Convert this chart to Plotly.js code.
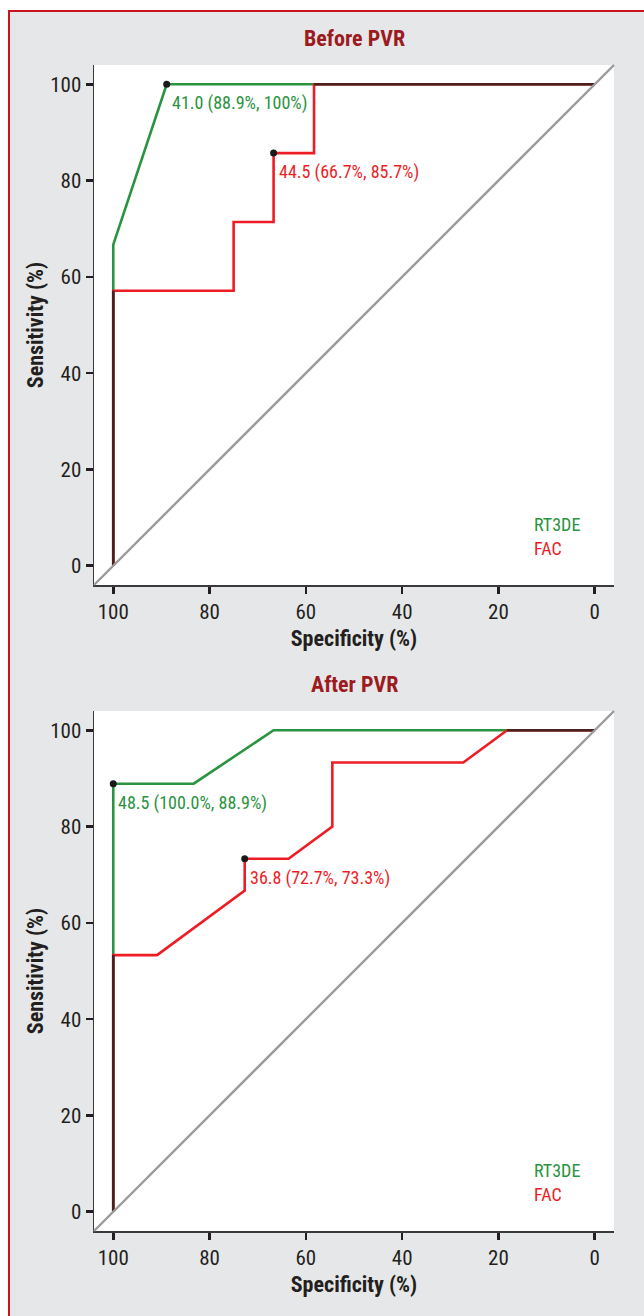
<!DOCTYPE html>
<html>
<head>
<meta charset="utf-8">
<script src="https://cdn.plot.ly/plotly-3.0.1.min.js"></script>
<style>
  html, body { margin: 0; padding: 0; background: #ffffff; }
  #frame {
    position: absolute; left: 8px; top: 10px; width: 640px; height: 1310px;
    background: #e6e7e8; border-left: 2px solid #c8161e; border-top: 2px solid #c8161e;
  }
  #chart { position: absolute; left: 0; top: 0; width: 644px; height: 1316px; }
</style>
</head>
<body>
<div id="frame"></div>
<div id="chart"></div>
<script>
// ---------- data ----------
const panelTitles = ['Before PVR', 'After PVR'];
const seriesNames = ['RT3DE', 'FAC'];

// Before PVR ROC curves (specificity %, sensitivity %)
const beforeRT3DE_spec = [100, 100, 88.9, 0];
const beforeRT3DE_sens = [0, 66.7, 100, 100];
const beforeFAC_spec = [100, 100, 75, 75, 66.7, 66.7, 58.3, 58.3, 0];
const beforeFAC_sens = [0, 57.1, 57.1, 71.4, 71.4, 85.7, 85.7, 100, 100];

// After PVR ROC curves
const afterRT3DE_spec = [100, 100, 83.3, 66.7, 0];
const afterRT3DE_sens = [0, 88.9, 88.9, 100, 100];
const afterFAC_spec = [100, 100, 90.9, 81.8, 72.7, 72.7, 63.6, 54.5, 54.5, 27.3, 18.2, 0];
const afterFAC_sens = [0, 53.3, 53.3, 60, 66.7, 73.3, 73.3, 80, 93.3, 93.3, 100, 100];

// best thresholds (RT3DE, FAC)
const beforeBest_spec = [88.9, 66.7];
const beforeBest_sens = [100, 85.7];
const beforeBest_labels = ['41.0 (88.9%, 100%)', '44.5 (66.7%, 85.7%)'];
const afterBest_spec = [100.0, 72.7];
const afterBest_sens = [88.9, 73.3];
const afterBest_labels = ['48.5 (100.0%, 88.9%)', '36.8 (72.7%, 73.3%)'];

const xTicks = [100, 80, 60, 40, 20, 0];
const yTicks = [0, 20, 40, 60, 80, 100];

// ---------- styles ----------
const GREEN = '#2a9340';
const RED = '#ee1d25';
const BROWN = '#4a2020';
const INK = '#231f20';
const FONT = '"Roboto Condensed", "DejaVu Sans Condensed", sans-serif';

// shared (overlapping) axis-aligned segments of two polylines
function overlap(ax, ay, bx, by) {
  const ox = [], oy = [];
  for (let i = 0; i < ax.length - 1; i++) {
    for (let j = 0; j < bx.length - 1; j++) {
      if (ax[i] === ax[i+1] && bx[j] === bx[j+1] && ax[i] === bx[j]) {
        const lo = Math.max(Math.min(ay[i], ay[i+1]), Math.min(by[j], by[j+1]));
        const hi = Math.min(Math.max(ay[i], ay[i+1]), Math.max(by[j], by[j+1]));
        if (hi > lo) { ox.push(ax[i], ax[i], null); oy.push(lo, hi, null); }
      } else if (ay[i] === ay[i+1] && by[j] === by[j+1] && ay[i] === by[j]) {
        const lo = Math.max(Math.min(ax[i], ax[i+1]), Math.min(bx[j], bx[j+1]));
        const hi = Math.min(Math.max(ax[i], ax[i+1]), Math.max(bx[j], bx[j+1]));
        if (hi > lo) { ox.push(lo, hi, null); oy.push(ay[i], ay[i], null); }
      }
    }
  }
  return [ox, oy];
}

const panels = [
  {g: [beforeRT3DE_spec, beforeRT3DE_sens], r: [beforeFAC_spec, beforeFAC_sens],
   bs: beforeBest_spec, bn: beforeBest_sens, bl: beforeBest_labels, xa: 'x', ya: 'y'},
  {g: [afterRT3DE_spec, afterRT3DE_sens], r: [afterFAC_spec, afterFAC_sens],
   bs: afterBest_spec, bn: afterBest_sens, bl: afterBest_labels, xa: 'x2', ya: 'y2'}
];

const traces = [];
const annotations = [];
const shapes = [];
panels.forEach((p, k) => {
  traces.push({x: p.g[0], y: p.g[1], xaxis: p.xa, yaxis: p.ya, mode: 'lines', name: seriesNames[0],
               line: {color: GREEN, width: 2.6}, showlegend: false, hoverinfo: 'skip'});
  traces.push({x: p.r[0], y: p.r[1], xaxis: p.xa, yaxis: p.ya, mode: 'lines', name: seriesNames[1],
               line: {color: RED, width: 2.6}, showlegend: false, hoverinfo: 'skip'});
  const ov = overlap(p.r[0], p.r[1], p.g[0], p.g[1]);
  traces.push({x: ov[0], y: ov[1], xaxis: p.xa, yaxis: p.ya, mode: 'lines', connectgaps: false,
               line: {color: BROWN, width: 2.6}, showlegend: false, hoverinfo: 'skip'});
  traces.push({x: p.bs, y: p.bn, xaxis: p.xa, yaxis: p.ya, mode: 'markers',
               marker: {color: '#1a1a1a', size: 7}, showlegend: false, hoverinfo: 'skip'});
  const colors = [GREEN, RED];
  p.bl.forEach((t, i) => {
    annotations.push({x: p.bs[i], y: p.bn[i], xref: p.xa, yref: p.ya, text: t, showarrow: false,
      xanchor: 'left', yanchor: 'middle', xshift: 3, yshift: -19,
      font: {family: FONT, size: 18, color: colors[i]}});
  });
  const dx = p.xa + ' domain', dy = p.ya + ' domain';
  // panel title
  annotations.push({x: 0.5, y: 1, xref: dx, yref: dy, text: panelTitles[k], showarrow: false,
    xanchor: 'center', yanchor: 'middle', yshift: 27,
    font: {family: FONT, size: 22, color: '#9b1b21', weight: 'bold'}});
  // legend texts
  seriesNames.forEach((n, i) => {
    annotations.push({x: 0.842, y: 0.117, xref: dx, yref: dy, text: n, showarrow: false,
      xanchor: 'left', yanchor: 'middle', yshift: -24 * i,
      font: {family: FONT, size: 18, color: colors[i]}});
  });
  // chance diagonal
  shapes.push({type: 'line', xref: dx, yref: dy, x0: 0, y0: 0, x1: 1, y1: 1, layer: 'above',
    line: {color: '#9a9a9a', width: 2.4}});
});

function xAxis() {
  return {domain: [94/644, 614/644], range: [104, -4], tickvals: xTicks, ticktext: xTicks.map(String),
    showgrid: false, zeroline: false, showline: true, linecolor: '#3a3a3a', linewidth: 1.5,
    ticks: 'outside', ticklen: 7, tickwidth: 2.5, tickcolor: INK,
    tickfont: {family: FONT, size: 21, color: INK},
    title: {text: 'Specificity (%)', standoff: 8, font: {family: FONT, size: 22, color: INK, weight: 'bold'}},
    fixedrange: true};
}
function yAxis(domain, anchor) {
  return {domain: domain, anchor: anchor, range: [-4, 104], tickvals: yTicks, ticktext: yTicks.map(String),
    showgrid: false, zeroline: false, showline: true, linecolor: '#3a3a3a', linewidth: 1.5,
    ticks: 'outside', ticklen: 7, tickwidth: 2.5, tickcolor: INK,
    tickfont: {family: FONT, size: 21, color: INK},
    title: {text: 'Sensitivity (%)', standoff: 0, font: {family: FONT, size: 22, color: INK, weight: 'bold'}},
    fixedrange: true};
}

const xa1 = xAxis(); xa1.anchor = 'y';
const xa2 = xAxis(); xa2.anchor = 'y2';
const layout = {
  width: 644, height: 1316,
  margin: {l: 0, r: 0, t: 0, b: 0},
  paper_bgcolor: 'rgba(0,0,0,0)', plot_bgcolor: '#ffffff',
  showlegend: false,
  xaxis: xa1,
  yaxis: yAxis([(1316-585)/1316, (1316-65)/1316], 'x'),
  xaxis2: xa2,
  yaxis2: yAxis([(1316-1231)/1316, (1316-711)/1316], 'x2'),
  annotations: annotations,
  shapes: shapes
};

Plotly.newPlot('chart', traces, layout, {displayModeBar: false, staticPlot: true});
</script>
</body>
</html>
